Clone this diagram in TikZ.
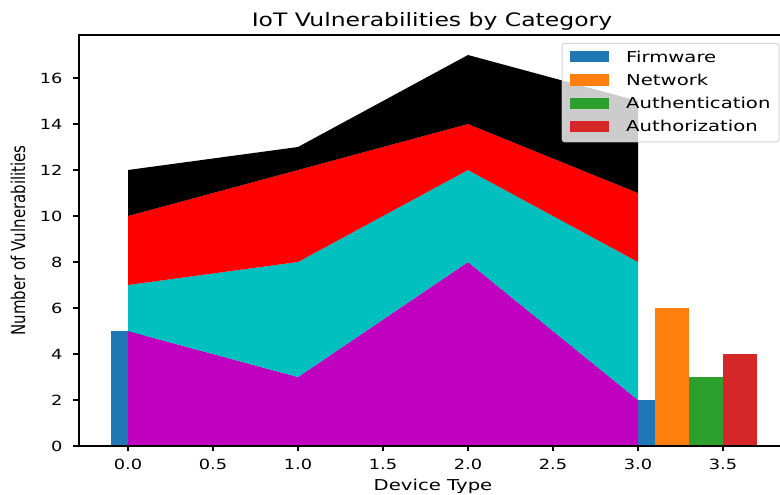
\documentclass[tikz,border=0pt]{standalone}
\usepackage{fontspec}
\setmainfont{DejaVu Sans}
\usepackage{graphicx}
\definecolor{tabblue}{HTML}{1F77B4}
\definecolor{taborange}{HTML}{FF7F0E}
\definecolor{tabgreen}{HTML}{2CA02C}
\definecolor{tabred}{HTML}{D62728}
\definecolor{mplmag}{RGB}{191,0,191}
\definecolor{mplcyan}{RGB}{0,191,191}
\definecolor{legedge}{HTML}{CCCCCC}
\newcommand{\wide}[1]{\scalebox{1.27}[1]{#1}}
\newcommand{\wider}[1]{\scalebox{1.31}[1]{#1}}
\tikzset{
  spine/.style={line width=1.1pt, line cap=rect},
  tickmark/.style={line width=1.1pt},
  ticklab/.style={inner sep=0pt, font=\fontsize{14}{14}\selectfont},
  labtext/.style={inner sep=0pt, font=\fontsize{15}{15}\selectfont},
  titletext/.style={inner sep=0pt, font=\fontsize{18.5}{18.5}\selectfont},
  legbox/.style={rounded corners=3pt, fill=white, fill opacity=0.8, draw=legedge, draw opacity=0.8, line width=1pt},
}
\begin{document}
\begin{tikzpicture}[x=1pt,y=1pt]
\useasboundingbox (0,0) rectangle (780,495);
\fill[white] (0,0) rectangle (780,495);
\begin{scope}[shift={(128,49)}, x=170pt, y=23pt]
  % bars
  \fill[tabblue] (-0.1,0) rectangle (0.1,5);
  \fill[tabblue] (2.9,0) rectangle (3.1,2);
  \fill[taborange] (3.1,0) rectangle (3.3,6);
  \fill[tabgreen] (3.3,0) rectangle (3.5,3);
  \fill[tabred] (3.5,0) rectangle (3.7,4);
  % stack
  \fill[mplmag] (0,0) -- (0,5) -- (1,3) -- (2,8) -- (3,2) -- (3,0) -- cycle;
  \fill[mplcyan] (0,5) -- (1,3) -- (2,8) -- (3,2) -- (3,8) -- (2,12) -- (1,8) -- (0,7) -- cycle;
  \fill[red] (0,7) -- (1,8) -- (2,12) -- (3,8) -- (3,11) -- (2,14) -- (1,12) -- (0,10) -- cycle;
  \fill[black] (0,10) -- (1,12) -- (2,14) -- (3,11) -- (3,15) -- (2,17) -- (1,13) -- (0,12) -- cycle;
  % spines
  \coordinate (tl) at (-0.288,17.87);
  \coordinate (bl) at (-0.288,0);
  \coordinate (br) at (3.84,0);
  \coordinate (tr) at (3.84,17.87);
  \draw[spine] (tl) -- (bl) -- (br);
  \draw[spine] (tl) -- (tr);
  % x ticks
  \foreach \v/\t in {0/0.0,0.5/0.5,1/1.0,1.5/1.5,2/2.0,2.5/2.5,3/3.0,3.5/3.5}{
    \draw[tickmark] (\v,0) -- ++(0,-5pt);
    \node[ticklab, anchor=base] (xt\t) at ([yshift=-23.5pt]\v,0) {\wide{\t}};
  }
  % y ticks
  \foreach \v in {0,2,...,16}{
    \draw[tickmark] (-0.288,\v) -- ++(-6pt,0);
    \node[ticklab, anchor=base east] (yt\v) at ([xshift=-16.3pt,yshift=-5.1pt]-0.288,\v) {\wide{\v}};
  }
\end{scope}
% title and labels
\node[titletext, anchor=base] (title) at (432,468.5) {\wide{IoT Vulnerabilities by Category}};
\node[labtext, anchor=base] (xlab) at (433,4.5) {\wider{Device Type}};
\node[labtext, anchor=base, rotate=90] (ylab) at (25,254.5) {\scalebox{1}[1.27]{Number of Vulnerabilities}};
% legend
\draw[legbox] (562,353) rectangle (779,451.7);
\foreach \c/\n/\yc in {tabblue/Firmware/438.3, taborange/Network/415, tabgreen/Authentication/391.8, tabred/Authorization/368.7}{
  \fill[\c] (570,\yc-5.6) rectangle (609,\yc+5.6);
  \node[labtext, anchor=base west] (leg\n) at (626,\yc-5.6) {\wider{\n}};
}
\end{tikzpicture}
\end{document}
